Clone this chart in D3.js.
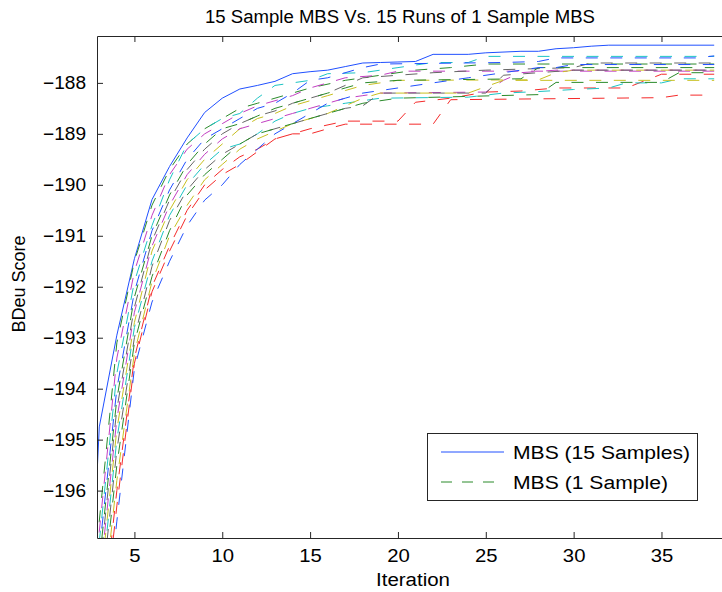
<!DOCTYPE html>
<html>
<head>
<meta charset="utf-8">
<script src="https://cdn.jsdelivr.net/npm/d3@7"></script>
<style>
  body { margin: 0; background: #fff; }
  text { font-family: "Liberation Sans", Arial, Helvetica, sans-serif; }
</style>
</head>
<body>
<div id="wrapper"></div>
<script>
// tick values
const xTicks = [5, 10, 15, 20, 25, 30, 35];
const yTicks = [-196, -195, -194, -193, -192, -191, -190, -189, -188];

// MBS with 15 samples (solid blue)
const solidIter  = [2, 3, 4, 5, 6, 7, 8, 9, 10, 11, 12, 13, 14, 15, 16, 17, 18, 19, 20, 21, 22, 24, 25, 27, 28, 29, 30, 31, 32, 38];
const solidScore = [-202.0, -194.75, -192.95, -191.45, -190.29, -189.64, -189.08, -188.58, -188.3, -188.12, -188.05, -187.97,
                    -187.82, -187.78, -187.75, -187.68, -187.61, -187.6, -187.59, -187.58, -187.44, -187.44, -187.41, -187.38,
                    -187.38, -187.33, -187.31, -187.28, -187.26, -187.26];

// 15 runs of MBS with 1 sample (dashed), [iteration, score]
const run01 = [[2,-199.0],[3,-196.6],[4,-193.1],[5,-191.5],[6,-190.4],[7,-189.7],[8,-189.2],[9,-188.9],[10,-188.7],[11,-188.5],[12,-188.4],[13,-188.3],[14,-188.2],[15,-188.1],[17,-187.95],[19,-187.85],[21,-187.75],[23,-187.7],[25,-187.63],[38,-187.63]];
const run02 = [[2,-201.4],[3,-199.1],[4,-196.0],[5,-193.4],[6,-192.0],[7,-191.2],[8,-190.5],[9,-190.0],[10,-189.7],[11,-189.45],[12,-189.3],[13,-189.1],[15,-188.9],[17,-188.75],[20,-188.75],[21,-188.38],[23,-188.3],[25,-188.18],[27,-188.16],[29,-188.1],[33,-188.1],[35,-187.83],[38,-187.83]];
const run03 = [[2,-199.4],[3,-197.0],[4,-193.7],[5,-191.9],[6,-190.8],[7,-189.9],[8,-189.2],[9,-188.9],[10,-188.7],[11,-188.6],[12,-188.3],[13,-188.05],[14,-188.0],[15,-187.95],[16,-187.82],[18,-187.8],[19,-187.75],[20,-187.7],[21,-187.65],[22,-187.6],[24,-187.6],[25,-187.48],[38,-187.48]];
const run04 = [[2,-199.2],[3,-196.8],[4,-193.4],[5,-191.7],[6,-190.6],[7,-189.8],[8,-189.3],[9,-189.0],[10,-188.8],[11,-188.6],[12,-188.45],[13,-188.35],[14,-188.25],[15,-188.1],[16,-188.0],[17,-187.9],[19,-187.85],[20,-187.77],[38,-187.77]];
const run05 = [[2,-200.4],[3,-198.0],[4,-194.8],[5,-192.7],[6,-191.3],[7,-190.5],[8,-189.9],[9,-189.5],[10,-189.2],[11,-188.9],[12,-188.7],[13,-188.6],[14,-188.45],[15,-188.35],[16,-188.25],[17,-188.15],[18,-188.05],[20,-187.95],[28,-187.94],[29,-187.8],[30,-187.75],[38,-187.75]];
const run06 = [[2,-200.0],[3,-197.6],[4,-194.4],[5,-192.4],[6,-191.1],[7,-190.3],[8,-189.7],[9,-189.3],[10,-189.0],[11,-188.8],[12,-188.65],[13,-188.55],[14,-188.4],[15,-188.3],[16,-188.2],[17,-188.05],[18,-187.9],[20,-187.85],[22,-187.8],[25,-187.75],[30,-187.7],[31,-187.61],[38,-187.61]];
const run07 = [[2,-199.6],[3,-197.2],[4,-194.0],[5,-192.1],[6,-190.9],[7,-190.1],[8,-189.5],[9,-189.1],[10,-188.9],[11,-188.7],[12,-188.5],[13,-188.4],[14,-188.2],[15,-187.95],[16,-187.9],[18,-187.7],[19,-187.63],[26,-187.6],[28,-187.58],[29,-187.51],[37,-187.51],[38,-187.47]];
const run08 = [[2,-199.8],[3,-197.4],[4,-194.2],[5,-192.2],[6,-191.0],[7,-190.2],[8,-189.6],[9,-189.2],[10,-188.9],[11,-188.8],[12,-188.65],[13,-188.5],[14,-188.4],[15,-188.3],[16,-188.2],[17,-188.1],[18,-188.0],[20,-187.95],[27,-187.92],[28,-187.7],[38,-187.7]];
const run09 = [[2,-201.7],[3,-199.4],[4,-196.3],[5,-193.5],[6,-192.1],[7,-191.3],[8,-190.6],[9,-190.1],[10,-189.8],[11,-189.6],[12,-189.35],[13,-189.1],[14,-189.0],[15,-189.0],[16,-188.9],[17,-188.81],[22,-188.81],[23,-188.33],[35,-188.29],[36,-188.24],[38,-188.24]];
const run10 = [[2,-200.6],[3,-198.2],[4,-195.0],[5,-192.8],[6,-191.5],[7,-190.6],[8,-190.0],[9,-189.6],[10,-189.3],[11,-189.2],[12,-189.0],[13,-188.75],[14,-188.6],[15,-188.5],[16,-188.45],[17,-188.4],[18,-188.35],[19,-188.3],[24,-188.28],[26,-188.2],[28,-188.17],[30,-188.13],[32,-188.1],[33,-188.0],[35,-188.0],[36,-187.92],[38,-187.92]];
const run11 = [[2,-200.2],[3,-197.8],[4,-194.6],[5,-192.5],[6,-191.2],[7,-190.4],[8,-189.8],[9,-189.4],[10,-189.1],[11,-188.9],[12,-188.8],[13,-188.7],[14,-188.6],[15,-188.5],[16,-188.4],[17,-188.3],[18,-188.25],[19,-188.2],[25,-188.18],[26,-187.95],[27,-187.8],[29,-187.75],[38,-187.75]];
const run12 = [[2,-201.2],[3,-198.9],[4,-195.8],[5,-193.3],[6,-191.9],[7,-191.0],[8,-190.4],[9,-189.9],[10,-189.6],[11,-189.3],[12,-189.1],[13,-188.95],[14,-188.8],[15,-188.7],[16,-188.6],[17,-188.45],[18,-188.3],[19,-188.2],[24,-188.2],[26,-187.95],[38,-187.95]];
const run13 = [[2,-200.8],[3,-198.4],[4,-195.2],[5,-193.0],[6,-191.6],[7,-190.7],[8,-190.1],[9,-189.7],[10,-189.4],[11,-189.2],[12,-189.0],[13,-188.9],[14,-188.8],[15,-188.7],[16,-188.6],[17,-188.5],[18,-188.45],[19,-188.2],[25,-188.2],[26,-187.85],[28,-187.8],[30,-187.75],[38,-187.75]];
const run14 = [[2,-202.0],[3,-199.8],[4,-196.6],[5,-193.6],[6,-192.3],[7,-191.5],[8,-190.8],[9,-190.3],[10,-190.0],[11,-189.6],[12,-189.3],[13,-189.0],[14,-188.8],[15,-188.6],[16,-188.4],[17,-188.3],[18,-188.2],[20,-188.1],[22,-188.0],[24,-187.9],[26,-187.8],[28,-187.7],[29,-187.7],[30,-187.64],[38,-187.64]];
const run15 = [[2,-201.0],[3,-198.6],[4,-195.5],[5,-193.1],[6,-191.8],[7,-190.9],[8,-190.2],[9,-189.8],[10,-189.5],[11,-189.2],[12,-189.0],[13,-188.9],[14,-188.8],[15,-188.7],[16,-188.6],[17,-188.5],[18,-188.4],[20,-188.3],[28,-188.23],[29,-187.99],[35,-187.99],[36,-187.8],[38,-187.8]];

const runs = [run01, run02, run03, run04, run05, run06, run07, run08, run09, run10, run11, run12, run13, run14, run15];
// matlab colour order, continuing after the solid blue line
const runColors = ["#2a8a2a", "#f52a2a", "#1cc4c4", "#c23ec2", "#c8c020", "#666666", "#2050ff",
                   "#2a8a2a", "#f52a2a", "#1cc4c4", "#c23ec2", "#c8c020", "#666666", "#2050ff", "#2a8a2a"];
const solidColor = "#2050ff";

const legendLabels = ["MBS (15 Samples)", "MBS (1 Sample)"];

function drawChart() {
    const width = 722
    let dimensions = {
        width: width,
        height: 592,
        margin: { top: 36, right: -8, bottom: 54, left: 97 },
    }
    dimensions.boundedWidth = dimensions.width - dimensions.margin.left - dimensions.margin.right
    dimensions.boundedHeight = dimensions.height - dimensions.margin.top - dimensions.margin.bottom

    const wrapper = d3.select("#wrapper")
        .html("")
        .append("svg")
        .attr("width", dimensions.width)
        .attr("height", dimensions.height);

    const bounds = wrapper.append("g")
        .attr("transform", `translate(${dimensions.margin.left},${dimensions.margin.top})`);

    const xScaler = d3.scaleLinear()
        .domain([2.87, 38.9])
        .range([0, dimensions.boundedWidth]);

    const yScaler = d3.scaleLinear()
        .domain([-196.93, -187.08])
        .range([dimensions.boundedHeight, 0]);

    bounds.append("clipPath")
        .attr("id", "plotClip")
        .append("rect")
        .attr("width", dimensions.boundedWidth)
        .attr("height", dimensions.boundedHeight);

    const lineGen = d3.line()
        .x(d => xScaler(d[0]))
        .y(d => yScaler(d[1]));

    const plot = bounds.append("g").attr("clip-path", "url(#plotClip)");

    // solid line first, dashed runs on top
    plot.append("path")
        .datum(d3.zip(solidIter, solidScore))
        .attr("d", lineGen)
        .attr("fill", "none")
        .attr("stroke", solidColor)
        .attr("stroke-width", 1);

    plot.selectAll(".run")
        .data(runs)
        .enter()
        .append("path")
        .attr("class", "run")
        .attr("d", lineGen)
        .attr("fill", "none")
        .attr("stroke", (d, i) => runColors[i])
        .attr("stroke-width", 1)
        .attr("stroke-dasharray", "12,12.5");

    // axes, ticks pointing inwards like matlab
    const xAxisGen = d3.axisBottom(xScaler)
        .tickValues(xTicks)
        .tickSize(-6)
        .tickSizeOuter(0)
        .tickPadding(11);
    const xAxis = bounds.append("g")
        .attr("transform", `translate(0,${dimensions.boundedHeight})`)
        .call(xAxisGen);

    const topAxisGen = d3.axisTop(xScaler)
        .tickValues(xTicks)
        .tickSize(-6)
        .tickSizeOuter(0)
        .tickFormat("");
    const topAxis = bounds.append("g").call(topAxisGen);

    const yAxisGen = d3.axisLeft(yScaler)
        .tickValues(yTicks)
        .tickSize(-6)
        .tickSizeOuter(0)
        .tickPadding(11);
    const yAxis = bounds.append("g").call(yAxisGen);

    [xAxis, topAxis, yAxis].forEach(ax => {
        ax.select(".domain").attr("stroke", "#262626");
        ax.selectAll(".tick line").attr("stroke", "#262626");
        ax.selectAll(".tick text")
            .attr("fill", "#000")
            .attr("font-size", "18px")
            .attr("font-family", "Liberation Sans, Arial, sans-serif");
    });
    // the reference glyphs are a little wider than Liberation Sans
    xAxis.selectAll(".tick text")
        .attr("textLength", function () { return this.textContent.length * 11.3; })
        .attr("lengthAdjust", "spacingAndGlyphs");
    yAxis.selectAll(".tick text")
        .attr("textLength", 43)
        .attr("lengthAdjust", "spacingAndGlyphs");

    // title and labels
    wrapper.append("text")
        .attr("x", 400)
        .attr("y", 23)
        .text("15 Sample MBS Vs. 15 Runs of 1 Sample MBS")
        .attr("fill", "black")
        .attr("font-size", "18px")
        .attr("text-anchor", "middle")
        .attr("textLength", 390)
        .attr("lengthAdjust", "spacingAndGlyphs");

    wrapper.append("text")
        .attr("x", 413)
        .attr("y", 586)
        .text("Iteration")
        .attr("fill", "black")
        .attr("font-size", "18px")
        .attr("text-anchor", "middle")
        .attr("textLength", 74)
        .attr("lengthAdjust", "spacingAndGlyphs");

    wrapper.append("text")
        .attr("transform", "translate(25,284) rotate(-90)")
        .text("BDeu Score")
        .attr("fill", "black")
        .attr("font-size", "18px")
        .attr("text-anchor", "middle");

    // legend
    const legend = wrapper.append("g");
    legend.append("rect")
        .attr("x", 427.5)
        .attr("y", 433.5)
        .attr("width", 270)
        .attr("height", 67)
        .attr("fill", "white")
        .attr("stroke", "#262626")
        .attr("stroke-width", 1);

    const legendRows = legend.selectAll(".row")
        .data(legendLabels)
        .enter()
        .append("g")
        .attr("transform", (d, i) => `translate(0,${452 + i * 30})`);

    legendRows.append("line")
        .attr("x1", 441)
        .attr("x2", 504)
        .attr("stroke", (d, i) => i === 0 ? solidColor : runColors[0])
        .attr("stroke-width", 1)
        .attr("stroke-dasharray", (d, i) => i === 0 ? null : "11,10");

    legendRows.append("text")
        .attr("x", 513)
        .attr("y", 6.5)
        .text(d => d)
        .attr("fill", "black")
        .attr("font-size", "18px")
        .attr("textLength", (d, i) => i === 0 ? 177 : 155)
        .attr("lengthAdjust", "spacingAndGlyphs");
}

drawChart();
</script>
</body>
</html>
